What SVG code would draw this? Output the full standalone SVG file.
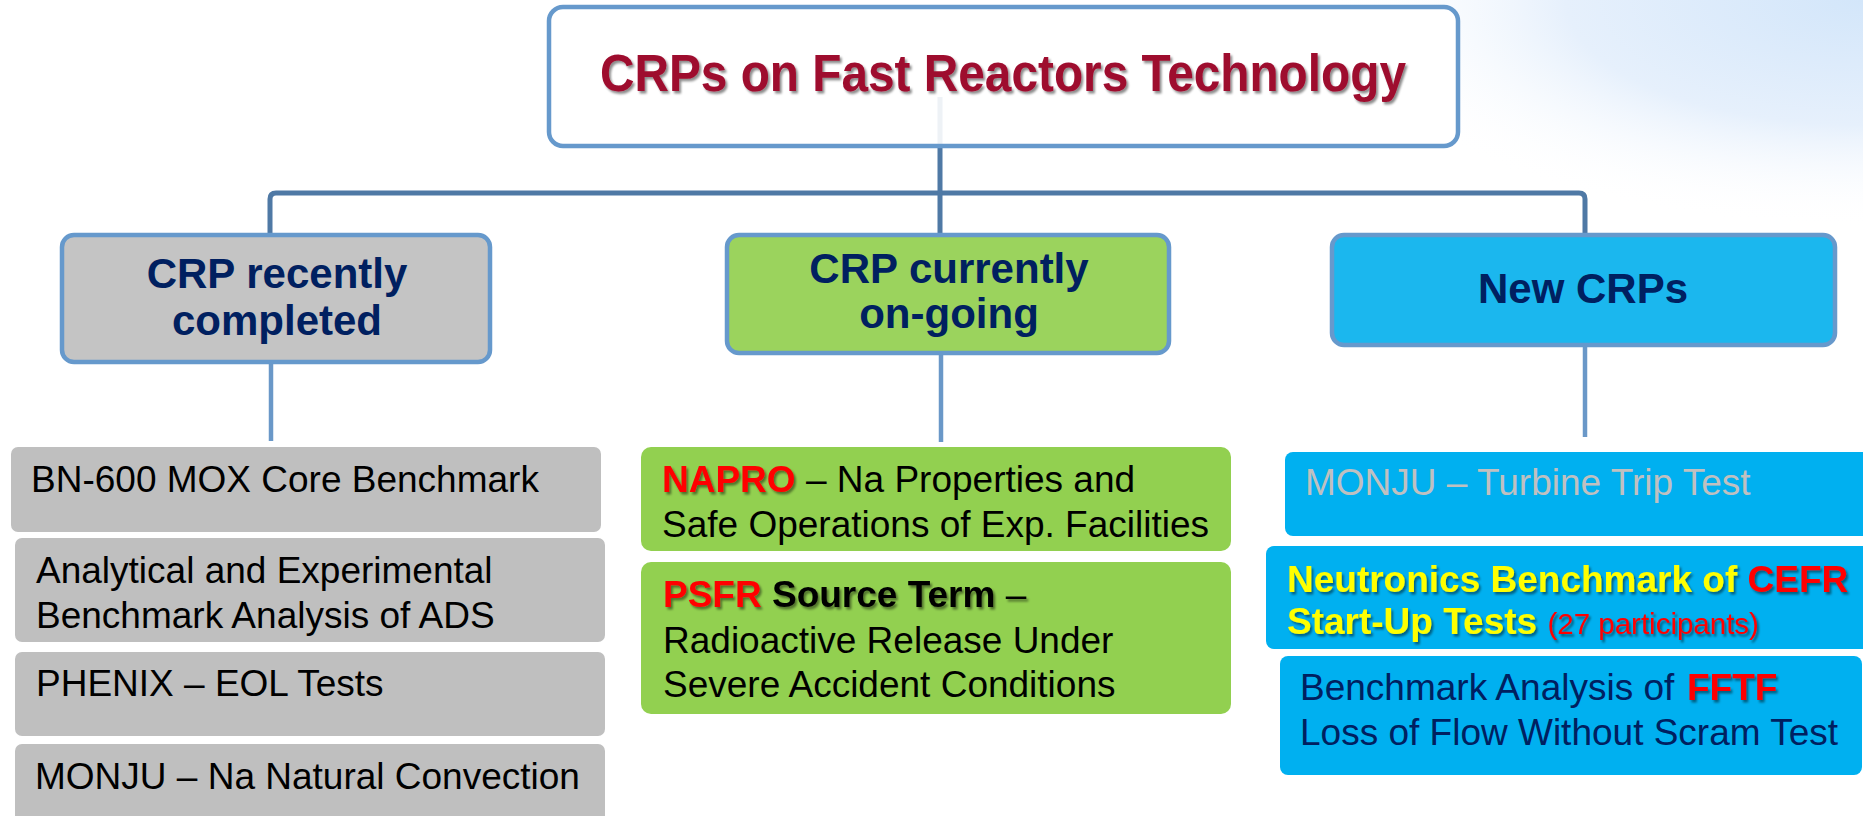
<svg xmlns="http://www.w3.org/2000/svg" width="1863" height="816" viewBox="0 0 1863 816">
<defs>
<radialGradient id="bgGlow" cx="0" cy="0" r="540" gradientUnits="userSpaceOnUse" gradientTransform="translate(1863,0) scale(1,0.42)">
<stop offset="0" stop-color="#d3e6fa"/>
<stop offset="0.55" stop-color="#e6f0fc"/>
<stop offset="1" stop-color="#ffffff" stop-opacity="0"/>
</radialGradient>
<filter id="shadow" x="-5%" y="-20%" width="110%" height="150%">
<feDropShadow dx="2" dy="2.5" stdDeviation="1.2" flood-color="#000" flood-opacity="0.45"/>
</filter>
<style>
text{font-family:"Liberation Sans",Arial,sans-serif}
.conn{fill:none;stroke:#4f79a5;stroke-width:5}
.connLow{fill:none;stroke:#6a98c8;stroke-width:4.5}
.hdr{stroke:#6699cc;stroke-width:4.5}
.h2{font-size:42px;font-weight:bold;fill:#002060;text-anchor:middle}
.body{font-size:37px;fill:#000}
.gray{fill:#bfbfbf}
.green{fill:#92d050}
.blue{fill:#00b0f0}
.b{font-weight:bold}
.red{fill:#ff0000}
.yel{fill:#ffff00}
.navy{fill:#002060}
</style>
</defs>
<rect width="1863" height="816" fill="#ffffff"/>
<rect width="1863" height="816" fill="url(#bgGlow)"/>

<g id="connectors">
<path class="conn" d="M270,235 V199 Q270,193 276,193 H1579 Q1585,193 1585,199 V235"/>
<path class="conn" d="M940,97 V235"/>
<path class="connLow" d="M271,362 V441"/>
<path class="connLow" d="M941,353 V442"/>
<path class="connLow" d="M1585,345 V437"/>
</g>

<g id="title">
<rect x="549" y="7" width="909" height="139" rx="14" fill="#ffffff" fill-opacity="0.9" class="hdr"/>
<text x="1003" y="91" font-size="51" font-weight="bold" fill="#9e0b2f" text-anchor="middle" textLength="806" lengthAdjust="spacingAndGlyphs" filter="url(#shadow)">CRPs on Fast Reactors Technology</text>
</g>

<g id="hdr-completed">
<rect x="62" y="235" width="428" height="127" rx="12" fill="#c4c4c4" class="hdr"/>
<text class="h2" x="277" y="288">CRP recently</text>
<text class="h2" x="277" y="335">completed</text>
</g>

<g id="hdr-ongoing">
<rect x="727" y="235" width="442" height="118" rx="12" fill="#9bd35d" class="hdr"/>
<text class="h2" x="949" y="283">CRP currently</text>
<text class="h2" x="949" y="328">on-going</text>
</g>

<g id="hdr-new">
<rect x="1332" y="235" width="503" height="110" rx="12" fill="#1bb7ee" class="hdr"/>
<text class="h2" x="1583" y="303">New CRPs</text>
</g>

<g id="c1">
<rect class="gray" x="11" y="447" width="590" height="85" rx="7"/>
<text class="body" x="31" y="492">BN-600 MOX Core Benchmark</text>
</g>
<g id="c2">
<rect class="gray" x="15" y="538" width="590" height="104" rx="7"/>
<text class="body" x="36" y="583">Analytical and Experimental</text>
<text class="body" x="36" y="628">Benchmark Analysis of ADS</text>
</g>
<g id="c3">
<rect class="gray" x="15" y="652" width="590" height="84" rx="7"/>
<text class="body" x="36" y="696">PHENIX – EOL Tests</text>
</g>
<g id="c4">
<rect class="gray" x="15" y="744" width="590" height="90" rx="7"/>
<text class="body" x="35" y="789">MONJU – Na Natural Convection</text>
</g>

<g id="o1">
<rect class="green" x="641" y="447" width="590" height="104" rx="10"/>
<text class="body b red" x="662" y="492" filter="url(#shadow)">NAPRO</text>
<text class="body" x="806" y="492">– Na Properties and</text>
<text class="body" x="662" y="537">Safe Operations of Exp. Facilities</text>
</g>
<g id="o2">
<rect class="green" x="641" y="562" width="590" height="152" rx="10"/>
<text class="body" x="663" y="607" filter="url(#shadow)"><tspan class="b red">PSFR</tspan><tspan class="b"> Source Term</tspan> –</text>
<text class="body" x="663" y="653">Radioactive Release Under</text>
<text class="body" x="663" y="697">Severe Accident Conditions</text>
</g>

<g id="n1">
<rect class="blue" x="1285" y="452" width="600" height="84" rx="8"/>
<text class="body" x="1305" y="495" style="fill:#c0c0c0" font-size="36.3">MONJU – Turbine Trip Test</text>
</g>
<g id="n2">
<rect class="blue" x="1266" y="546" width="620" height="103" rx="8"/>
<text class="body b yel" x="1287" y="592" filter="url(#shadow)">Neutronics Benchmark of <tspan class="red">CEFR</tspan></text>
<text class="body b yel" x="1287" y="634" filter="url(#shadow)">Start-Up Tests <tspan class="red" font-weight="normal" font-size="29.5">(27 participants)</tspan></text>
</g>
<g id="n3">
<rect class="blue" x="1280" y="656" width="582" height="119" rx="8"/>
<text class="body navy" x="1300" y="700">Benchmark Analysis of</text>
<text class="body b red" x="1687" y="700" filter="url(#shadow)">FFTF</text>
<text class="body navy" x="1300" y="745">Loss of Flow Without Scram Test</text>
</g>
</svg>
